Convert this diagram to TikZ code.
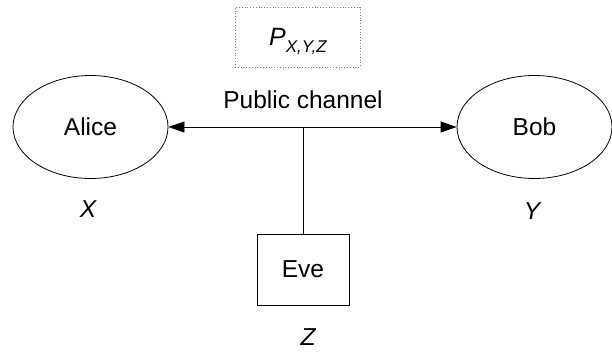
\documentclass[tikz,border=0pt]{standalone}
\usepackage{fontspec}
\setmainfont{Liberation Sans}
\usetikzlibrary{shapes.geometric,arrows.meta}
\begin{document}
\begin{tikzpicture}[x=1pt,y=-1pt,
  party/.style={draw,line width=0.8pt,ellipse,minimum width=155pt,minimum height=103pt,inner sep=0pt,font=\fontsize{24.5}{28}\selectfont},
  evebox/.style={draw,line width=0.8pt,rectangle,minimum width=92pt,minimum height=71pt,inner sep=0pt,font=\fontsize{24.5}{28}\selectfont},
  distbox/.style={draw=gray,dotted,line width=0.8pt,rectangle,minimum width=125pt,minimum height=60pt,inner sep=0pt},
  lbl/.style={inner sep=0pt,font=\fontsize{24.5}{28}\selectfont},
  var/.style={inner sep=0pt,font=\fontsize{24.5}{28}\selectfont\itshape},
  chan/.style={line width=0.8pt,{Triangle[length=16pt,width=11pt]}-{Triangle[length=16pt,width=11pt]}},
  link/.style={line width=0.8pt}]
\useasboundingbox (0,0) rectangle (612,351);
\node[party] (alice) at (90.5,127) {Alice};
\node[party] (bob) at (534.5,127) {Bob};
\node[evebox] (eve) at (303,269.5) {Eve};
\node[distbox] (dist) at (297.5,37) {};
\node[inner sep=0pt,font=\fontsize{25}{28}\selectfont\itshape] (p) at (298,41) {P\raisebox{-0.28em}{\fontsize{17}{20}\selectfont X,Y,Z}};
\node[lbl] (pub) at (303,100) {Public channel};
\coordinate (j) at (303,127);
\draw[chan] (alice) -- (bob);
\draw[link] (eve.north) -- (j);
\node[var] (x) at (88,209) {X};
\node[var] (y) at (532,211) {Y};
\node[var] (z) at (308,337) {Z};
\end{tikzpicture}
\end{document}
